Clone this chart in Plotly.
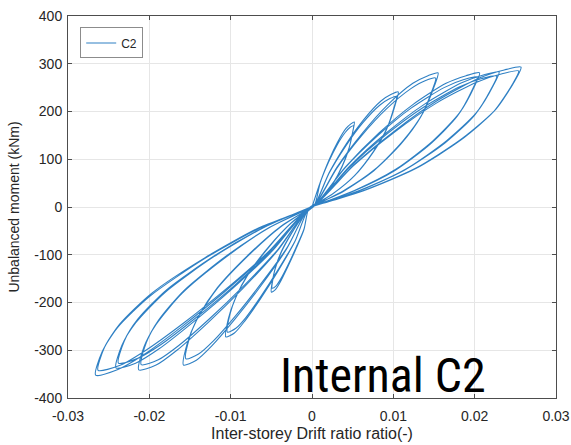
import plotly.graph_objects as go

# Hysteresis record of internal column C2: drift ratio (-) vs unbalanced moment (kNm).
# Each drift level holds two cycles: positive loading, unloading to the pinch,
# negative loading, unloading back to the pinch.

drift_l1 = [0.0, 0.00104, 0.00208, 0.00312, 0.00416, 0.00478, 0.0052,
            0.00504, 0.00458, 0.00374, 0.0026, 0.0013, 0.00042, -0.0004,
            -0.001, -0.002, -0.003, -0.0039, -0.0045, -0.005,
            -0.00485, -0.0045, -0.00375, -0.0025, -0.00125, -0.0004, 0.0003,
            0.00102, 0.00204, 0.00306, 0.00408, 0.00469, 0.0051,
            0.00495, 0.00449, 0.00367, 0.00255, 0.00128, 0.00041, -0.0004,
            -0.00098, -0.00196, -0.00294, -0.00382, -0.00441, -0.0049,
            -0.00475, -0.00441, -0.00368, -0.00245, -0.00123, -0.00039, 0.0003]
moment_l1 = [0, 53, 98, 135, 164, 174, 178,
             160, 125, 87, 50, 21, 7, -3,
             -48, -89, -126, -157, -173, -178,
             -153, -128, -94, -55, -23, -7, 3,
             51, 94, 129, 156, 167, 170,
             153, 119, 83, 48, 20, 7, -3,
             -46, -85, -121, -150, -165, -170,
             -146, -122, -90, -53, -22, -7, 3]

drift_l2 = [0.00212, 0.00424, 0.00636, 0.00848, 0.00975, 0.0106,
            0.01028, 0.00933, 0.00763, 0.0053, 0.00265, 0.00085, -0.0004,
            -0.00212, -0.00424, -0.00636, -0.00827, -0.00954, -0.0106,
            -0.01028, -0.00954, -0.00795, -0.0053, -0.00265, -0.00085, 0.0003,
            0.00208, 0.00416, 0.00624, 0.00832, 0.00957, 0.0104,
            0.01009, 0.00915, 0.00749, 0.0052, 0.0026, 0.00083, -0.0004,
            -0.00208, -0.00416, -0.00624, -0.00811, -0.00936, -0.0104,
            -0.01009, -0.00936, -0.0078, -0.0052, -0.0026, -0.00083, 0.0003]
moment_l2 = [72, 133, 183, 222, 236, 241,
             217, 169, 118, 67, 29, 10, -3,
             -73, -136, -193, -239, -264, -272,
             -234, -196, -144, -84, -35, -11, 3,
             70, 128, 176, 213, 227, 232,
             209, 162, 114, 65, 28, 9, -3,
             -71, -131, -186, -231, -254, -262,
             -225, -189, -139, -81, -34, -10, 3]

drift_l3 = [0.0031, 0.0062, 0.0093, 0.0124, 0.01426, 0.0155,
            0.01504, 0.01364, 0.01116, 0.00775, 0.00388, 0.00124, -0.0004,
            -0.00316, -0.00632, -0.00948, -0.01232, -0.01422, -0.0158,
            -0.01533, -0.01422, -0.01185, -0.0079, -0.00395, -0.00126, 0.0003,
            0.00304, 0.00608, 0.00912, 0.01216, 0.01398, 0.0152,
            0.01474, 0.01338, 0.01094, 0.0076, 0.0038, 0.00122, -0.0004,
            -0.0031, -0.0062, -0.0093, -0.01209, -0.01395, -0.0155,
            -0.01504, -0.01395, -0.01163, -0.00775, -0.00388, -0.00124, 0.0003]
moment_l3 = [84, 155, 214, 259, 275, 281,
             253, 197, 138, 79, 34, 11, -3,
             -89, -166, -235, -291, -321, -331,
             -285, -238, -175, -103, -43, -13, 3,
             81, 149, 205, 248, 265, 270,
             243, 189, 132, 76, 32, 11, -3,
             -86, -159, -226, -280, -308, -318,
             -273, -229, -169, -99, -41, -13, 3]

drift_l4 = [0.00412, 0.00824, 0.01236, 0.01648, 0.01895, 0.0206,
            0.01998, 0.01813, 0.01483, 0.0103, 0.00515, 0.00165, -0.0004,
            -0.00426, -0.00852, -0.01278, -0.01661, -0.01917, -0.0213,
            -0.02066, -0.01917, -0.01598, -0.01065, -0.00533, -0.0017, 0.0003,
            0.00406, 0.00812, 0.01218, 0.01624, 0.01868, 0.0203,
            0.01969, 0.01786, 0.01462, 0.01015, 0.00508, 0.00162, -0.0004,
            -0.0042, -0.0084, -0.0126, -0.01638, -0.0189, -0.021,
            -0.02037, -0.0189, -0.01575, -0.0105, -0.00525, -0.00168, 0.0003]
moment_l4 = [84, 155, 214, 259, 275, 281,
             253, 197, 138, 79, 34, 11, -3,
             -92, -171, -242, -300, -331, -341,
             -293, -246, -181, -106, -44, -14, 3,
             82, 150, 207, 250, 267, 272,
             245, 190, 133, 76, 33, 11, -3,
             -89, -165, -234, -290, -320, -330,
             -284, -238, -175, -102, -43, -13, 3]

drift_l5 = [0.0046, 0.0092, 0.0138, 0.0184, 0.02116, 0.023,
            0.02231, 0.02024, 0.01656, 0.0115, 0.00575, 0.00184, -0.0004,
            -0.00482, -0.00964, -0.01446, -0.0188, -0.02169, -0.0241,
            -0.02338, -0.02169, -0.01808, -0.01205, -0.00603, -0.00193, 0.0003,
            0.00454, 0.00908, 0.01362, 0.01816, 0.02088, 0.0227,
            0.02202, 0.01998, 0.01634, 0.01135, 0.00568, 0.00182, -0.0004,
            -0.00476, -0.00952, -0.01428, -0.01856, -0.02142, -0.0238,
            -0.02309, -0.02142, -0.01785, -0.0119, -0.00595, -0.0019, 0.0003]
moment_l5 = [85, 156, 215, 260, 277, 283,
             255, 198, 139, 79, 34, 11, -3,
             -91, -169, -239, -297, -327, -337,
             -290, -243, -179, -104, -44, -13, 3,
             82, 151, 208, 252, 269, 274,
             247, 192, 134, 77, 33, 11, -3,
             -88, -164, -232, -288, -317, -327,
             -281, -235, -173, -101, -43, -13, 3]

drift_l6 = [0.00514, 0.01028, 0.01542, 0.02056, 0.02364, 0.0257,
            0.02493, 0.02262, 0.0185, 0.01285, 0.00643, 0.00206, -0.0004,
            -0.00532, -0.01064, -0.01596, -0.02075, -0.02394, -0.0266,
            -0.0258, -0.02394, -0.01995, -0.0133, -0.00665, -0.00213, 0.0003,
            0.00508, 0.01016, 0.01524, 0.02032, 0.02337, 0.0254,
            0.02464, 0.02235, 0.01829, 0.0127, 0.00635, 0.00203, -0.0004,
            -0.00526, -0.01052, -0.01578, -0.02051, -0.02367, -0.0263,
            -0.02551, -0.02367, -0.01973, -0.01315, -0.00658, -0.0021, 0.0003]
moment_l6 = [88, 161, 223, 270, 287, 293,
             264, 205, 144, 82, 35, 12, -3,
             -95, -176, -250, -310, -341, -352,
             -303, -253, -187, -109, -46, -14, 3,
             86, 157, 217, 262, 279, 285,
             257, 200, 140, 80, 34, 11, -3,
             -92, -171, -243, -301, -332, -342,
             -294, -246, -181, -106, -44, -14, 3]

x_ticks = [-0.03, -0.02, -0.01, 0, 0.01, 0.02, 0.03]
x_tick_text = ["-0.03", "-0.02", "-0.01", "0", "0.01", "0.02", "0.03"]
y_ticks = [-400, -300, -200, -100, 0, 100, 200, 300, 400]
y_tick_text = ["-400", "-300", "-200", "-100", "0", "100", "200", "300", "400"]

drift = drift_l1 + drift_l2 + drift_l3 + drift_l4 + drift_l5 + drift_l6
moment = moment_l1 + moment_l2 + moment_l3 + moment_l4 + moment_l5 + moment_l6

font_main = "Liberation Sans, Arial, sans-serif"
ink = "#262626"

fig = go.Figure()
fig.add_trace(go.Scatter(
    x=drift, y=moment, mode="lines", name="C2",
    line=dict(color="#2f80c4", width=1.1, shape="spline", smoothing=0.7),
))

axis_common = dict(
    showgrid=True, gridcolor="#e6e6e6", gridwidth=1, automargin=False,
    zeroline=False, showline=True, linecolor="#4d4d4d", linewidth=1,
    mirror="ticks", ticks="inside", ticklen=4, tickcolor="#4d4d4d",
    tickfont=dict(family=font_main, size=14, color=ink),
)

fig.update_layout(
    width=571, height=445,
    margin=dict(l=68, r=15, t=16, b=47),
    paper_bgcolor="white", plot_bgcolor="white",
    showlegend=True,
    legend=dict(
        x=0.025, y=0.97, xanchor="left", yanchor="top",
        bgcolor="white", bordercolor="#8c8c8c", borderwidth=1,
        font=dict(family=font_main, size=12, color=ink),
        itemwidth=30, tracegroupgap=0,
    ),
    xaxis=dict(
        range=[-0.03, 0.03], tickvals=x_ticks, ticktext=x_tick_text,
        ticklabelstandoff=5,
        title=dict(text="Inter-storey Drift ratio ratio(-)", standoff=5,
                   font=dict(family=font_main, size=16, color=ink)),
        **axis_common,
    ),
    yaxis=dict(
        range=[-400, 400], tickvals=y_ticks, ticktext=y_tick_text,
        ticklabelstandoff=2,
        title=dict(text="Unbalanced moment (kNm)", standoff=11,
                   font=dict(family=font_main, size=14, color=ink)),
        **axis_common,
    ),
)

fig.add_annotation(
    text="Internal C2", xref="paper", yref="paper",
    x=0.43, y=-0.022, xanchor="left", yanchor="bottom", showarrow=False,
    font=dict(family="Liberation Sans Narrow, Arial Narrow, Roboto Condensed, Liberation Sans, sans-serif",
              size=48, color="black"),
)

fig.write_html("out.html")
